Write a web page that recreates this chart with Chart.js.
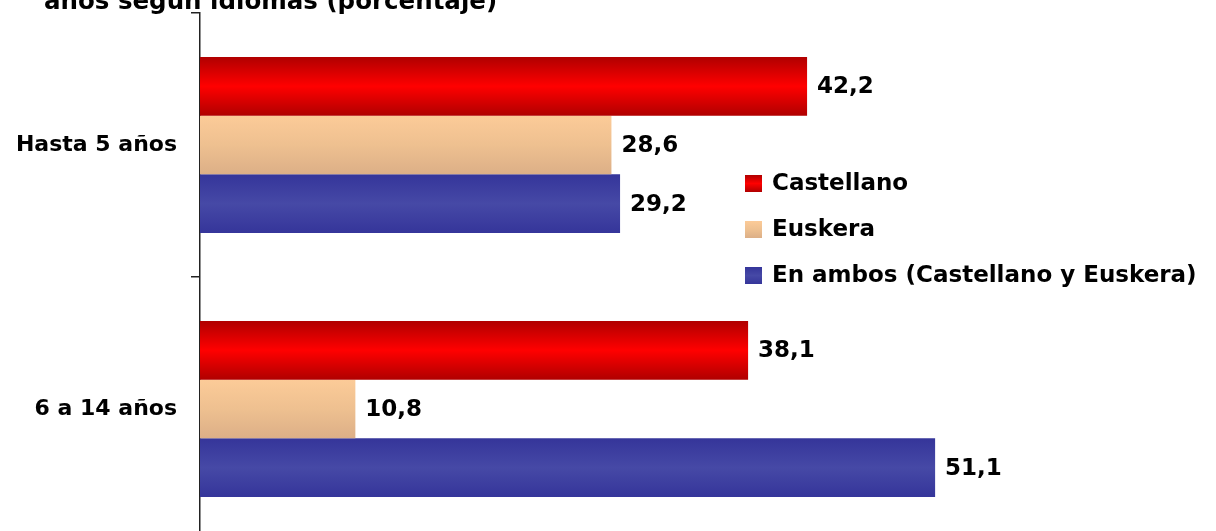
<!DOCTYPE html>
<html>
<head>
<meta charset="utf-8">
<script src="https://cdn.jsdelivr.net/npm/chart.js@4.4.1/dist/chart.umd.min.js"></script>
<style>
  html, body { margin: 0; padding: 0; background: #fff; overflow: hidden; }
  #wrap { position: relative; width: 1216px; height: 531px; overflow: hidden; }
  #chart { position: absolute; left: 0; top: -30px; }
</style>
</head>
<body>
<div id="wrap"><canvas id="chart" width="1216" height="600"></canvas></div>
<script>
// datos
const categorias = ['Hasta 5 años', '6 a 14 años'];
const castellano = [42.2, 38.1];
const euskera = [28.6, 10.8];
const ambos = [29.2, 51.1];
const seriesNombres = ['Castellano', 'Euskera', 'En ambos (Castellano y Euskera)'];
const tituloVisible = 'años según idiomas (porcentaje)';

const FONT = '"Comic Sans MS", "DejaVu Sans", sans-serif';
const CAT_PCT = 0.667;

// paradas de degradado (arriba, centro, abajo)
const degradados = [
  ['#b00000', '#ff0000', '#b00000'],
  ['#fccb98', '#eec090', '#dcaf87'],
  ['#35359a', '#4649a6', '#35359a']
];

function crearDegradado(ctx2d, top, h, stops) {
  const g = ctx2d.createLinearGradient(0, top, 0, top + h);
  g.addColorStop(0, stops[0]);
  g.addColorStop(0.5, stops[1]);
  g.addColorStop(1, stops[2]);
  return g;
}

function fondoBarra(ctx) {
  const stops = degradados[ctx.datasetIndex];
  const chart = ctx.chart;
  const y = chart.scales && chart.scales.y;
  if (ctx.type !== 'data' || !y) return stops[1];
  const center = y.getPixelForValue(ctx.dataIndex);
  const catW = y.height / categorias.length;
  const barH = catW * CAT_PCT / 3;
  const top = center - catW * CAT_PCT / 2 + ctx.datasetIndex * barH;
  if (!isFinite(top) || !isFinite(barH) || barH <= 0) return stops[1];
  return crearDegradado(chart.ctx, top, barH, stops);
}

// titulo (solo la segunda linea queda visible)
const tituloPlugin = {
  id: 'tituloPlugin',
  afterDraw(chart) {
    const c = chart.ctx;
    c.save();
    c.font = 'bold 24.5px ' + FONT;
    c.fillStyle = '#000';
    c.textBaseline = 'alphabetic';
    c.textAlign = 'left';
    c.fillText(tituloVisible, 44, 39);
    c.restore();
  }
};

// etiquetas de valor al final de cada barra
const valoresPlugin = {
  id: 'valoresPlugin',
  afterDatasetsDraw(chart) {
    const c = chart.ctx;
    c.save();
    c.font = 'bold 23px ' + FONT;
    c.fillStyle = '#000';
    c.textBaseline = 'middle';
    c.textAlign = 'left';
    chart.data.datasets.forEach((ds, i) => {
      chart.getDatasetMeta(i).data.forEach((bar, j) => {
        const txt = ds.data[j].toFixed(1).replace('.', ',');
        c.fillText(txt, bar.x + 10, bar.y + 1);
      });
    });
    c.restore();
  }
};

// leyenda dentro del area del grafico
const leyendaPlugin = {
  id: 'leyendaPlugin',
  afterDraw(chart) {
    const c = chart.ctx;
    const x0 = 745, y0 = 213.5, paso = 46, lado = 17;
    c.save();
    c.font = 'bold 23px ' + FONT;
    c.textBaseline = 'middle';
    c.textAlign = 'left';
    chart.data.datasets.forEach((ds, i) => {
      const cy = y0 + i * paso;
      c.fillStyle = crearDegradado(c, cy - lado / 2, lado, degradados[i]);
      c.fillRect(x0, cy - lado / 2, lado, lado);
      c.fillStyle = '#000';
      c.fillText(ds.label, 772, cy + 1);
    });
    c.restore();
  }
};

const ctx = document.getElementById('chart').getContext('2d');
const chart = new Chart(ctx, {
  type: 'bar',
  data: {
    labels: categorias,
    datasets: [
      { label: seriesNombres[0], data: castellano, backgroundColor: fondoBarra },
      { label: seriesNombres[1], data: euskera, backgroundColor: fondoBarra },
      { label: seriesNombres[2], data: ambos, backgroundColor: fondoBarra }
    ]
  },
  options: {
    indexAxis: 'y',
    responsive: false,
    maintainAspectRatio: false,
    animation: false,
    layout: { padding: { top: 43, bottom: 29, left: 0, right: 9 } },
    datasets: {
      bar: {
        categoryPercentage: CAT_PCT,
        barPercentage: 1,
        borderWidth: 0
      }
    },
    scales: {
      x: { display: false, min: 0, max: 70 },
      y: {
        afterFit(scale) { scale.width = 200; },
        border: { display: true, color: '#222', width: 1.5 },
        grid: { drawOnChartArea: false, drawTicks: true, tickLength: 9, tickColor: '#222', lineWidth: 1.5 },
        ticks: { color: '#000', padding: 14, font: { family: FONT, size: 22, weight: 'bold' } }
      }
    },
    plugins: {
      legend: { display: false },
      title: { display: false },
      tooltip: { enabled: false },
      colors: { enabled: false }
    }
  },
  plugins: [tituloPlugin, valoresPlugin, leyendaPlugin]
});
</script>
</body>
</html>
